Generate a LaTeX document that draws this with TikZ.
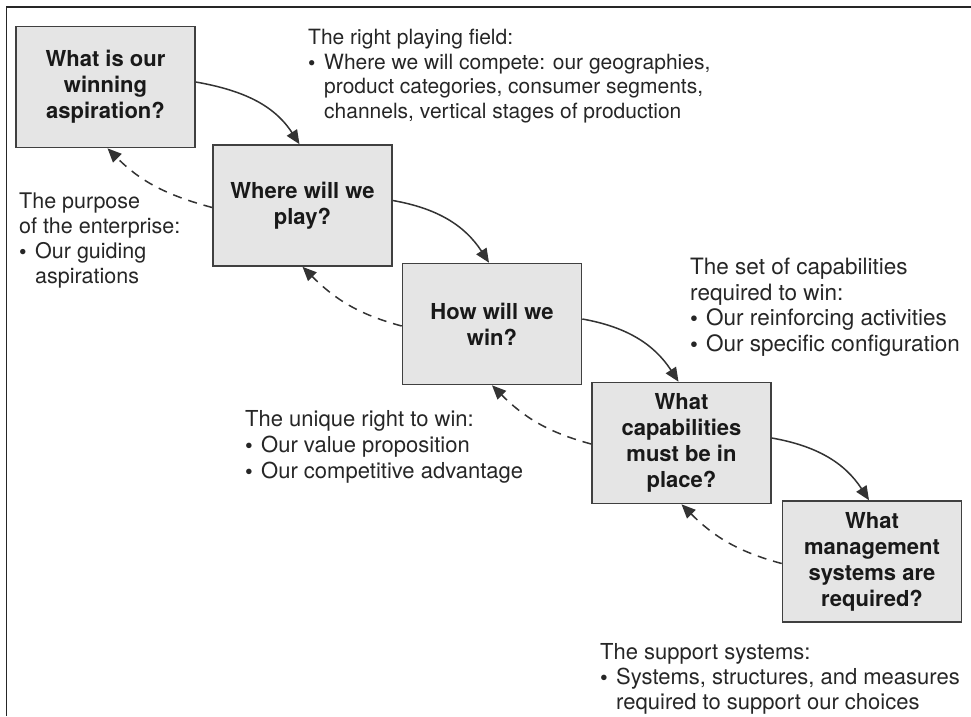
\documentclass[tikz,border=0pt]{standalone}
\usepackage{fontspec}
\setmainfont{TeX Gyre Heros}
\usetikzlibrary{arrows.meta}
\newcommand{\bul}{\makebox[16pt][l]{\textbf{\textbullet}}}
\newcommand{\ind}{\hspace*{16pt}}
\begin{document}
\begin{tikzpicture}[x=1pt,y=1pt,
  qbox/.style={draw=black!75, line width=1.6pt, fill=black!10, minimum width=179pt,
    minimum height=121pt, align=center, inner sep=2pt,
    font=\fontsize{22}{26}\selectfont\bfseries, text=black!90},
  note/.style={anchor=north west, align=left, inner sep=0pt,
    font=\fontsize{21.5}{25}\selectfont, text=black!85},
  fwd/.style={draw=black!80, line width=1.5pt, -{Triangle[length=14pt,width=12pt]}},
  back/.style={fwd, dash pattern=on 9pt off 7pt}
]
\useasboundingbox (0,0) rectangle (971,-716);
\draw[line width=1.6pt, black!85] (6.5,-716) -- (6.5,-7) -- (971,-7);

\node[qbox] (b1) at (105.5,-87) {What is our\\winning\\aspiration?};
\node[qbox] (b2) at (302.5,-205.5) {Where will we\\play?};
\node[qbox] (b3) at (492,-324) {How will we\\win?};
\node[qbox] (b4) at (681.5,-443) {What\\capabilities\\must be in\\place?};
\node[qbox] (b5) at (872,-561.5) {What\\management\\systems are\\required?};

\node[note, font=\fontsize{21}{24.5}\selectfont] (t1) at (308,-29) {The right playing field:\\
\bul Where we will compete: our geographies,\\
\ind product categories, consumer segments,\\
\ind channels, vertical stages of production};
\node[note] (t2) at (19,-193) {The purpose\\of the enterprise:\\
\bul Our guiding\\\ind aspirations};
\node[note, font=\fontsize{22.5}{25.5}\selectfont] (t3) at (690,-258) {The set of capabilities\\required to win:\\
\bul Our reinforcing activities\\\bul Our specific configuration};
\node[note, font=\fontsize{22}{26}\selectfont] (t4) at (245,-410) {The unique right to win:\\
\bul Our value proposition\\\bul Our competitive advantage};
\node[note, font=\fontsize{22}{25}\selectfont] (t5) at (600,-643) {The support systems:\\
\bul Systems, structures, and measures\\
\ind required to support our choices};

\draw[fwd] ([yshift=5pt]b1.east) to[out=-10,in=123] ([xshift=-3pt]b2.north);
\draw[fwd] ([yshift=5pt]b2.east) to[out=-10,in=123] ([xshift=-3pt]b3.north);
\draw[fwd] ([yshift=5pt]b3.east) to[out=-10,in=123] ([xshift=-3pt]b4.north);
\draw[fwd] ([yshift=5pt]b4.east) to[out=-10,in=123] ([xshift=-3pt]b5.north);

\draw[back] ([yshift=-2pt]b2.west) to[out=165,in=-45] ([xshift=2pt]b1.south);
\draw[back] ([yshift=-2pt]b3.west) to[out=165,in=-45] (b2.south);
\draw[back] ([yshift=-1pt]b4.west) to[out=165,in=-45] (b3.south);
\draw[back] ([yshift=-2pt]b5.west) to[out=165,in=-45] (b4.south);
\end{tikzpicture}
\end{document}
